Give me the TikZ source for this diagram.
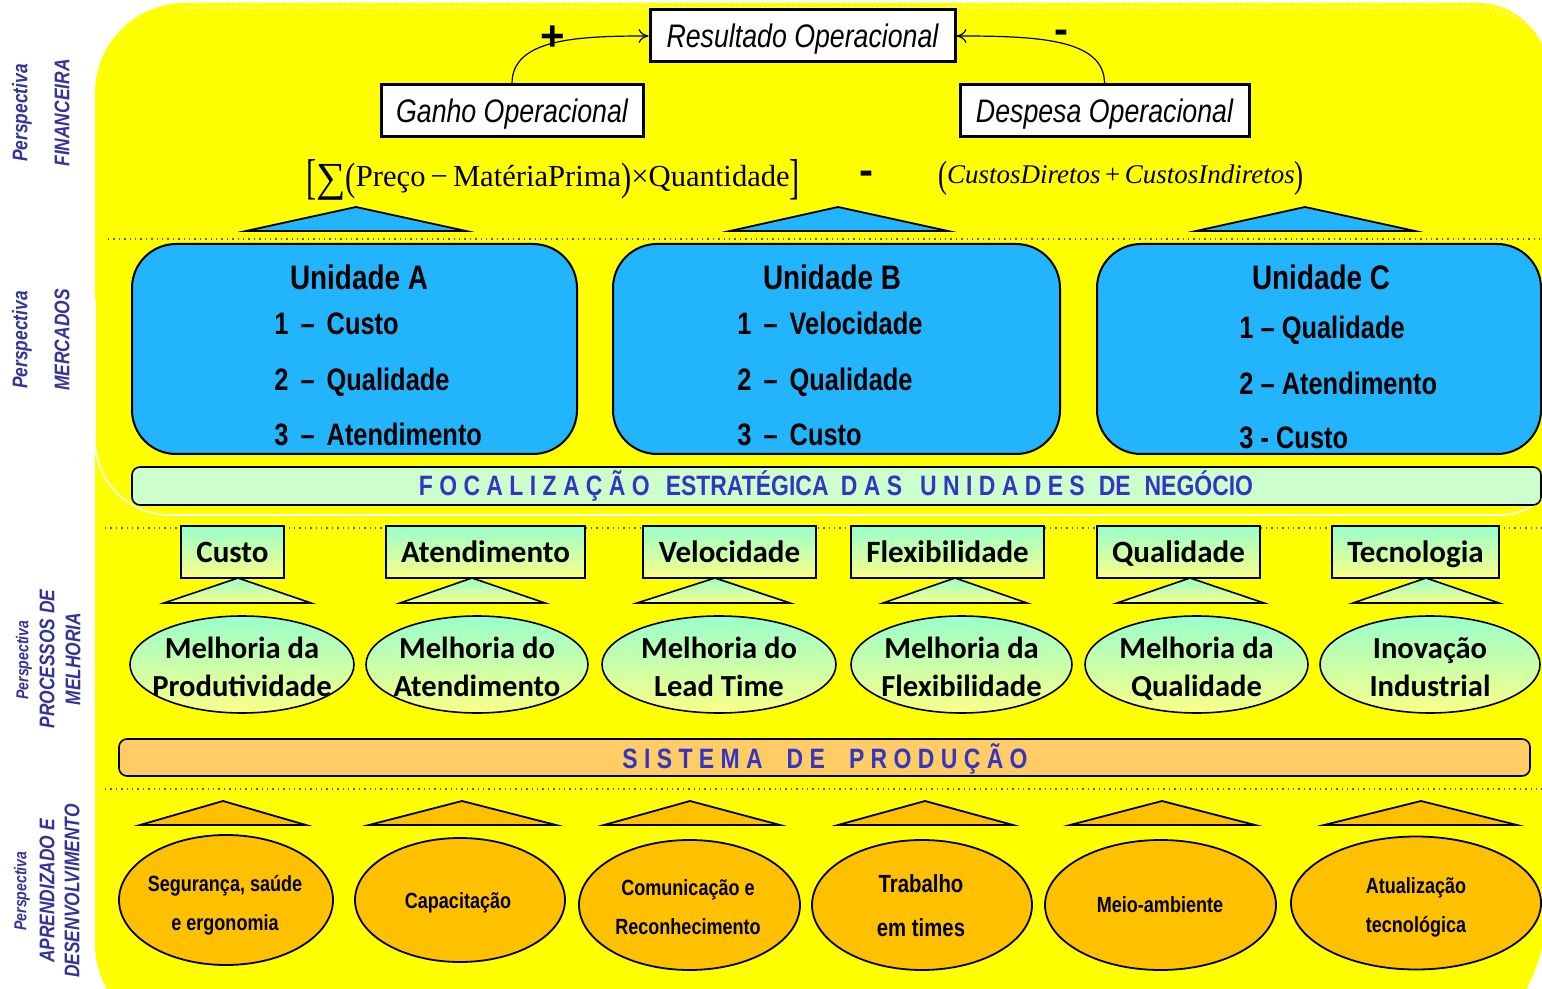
\documentclass[tikz,border=0pt]{standalone}
\usepackage{fontspec}
\usepackage{graphicx}
\setmainfont{Liberation Sans}
\newfontfamily\narrow[FakeStretch=0.82]{Liberation Sans}
\newfontfamily\calib{Carlito}
\newfontfamily\tnr{Liberation Serif}
\usetikzlibrary{shapes.geometric,arrows.meta}
\definecolor{Yel}{HTML}{FFFF00}
\definecolor{UBlue}{HTML}{22B4FC}
\definecolor{LGreen}{HTML}{CCFFCC}
\definecolor{LabBlue}{HTML}{333399}
\definecolor{TxtBlue}{HTML}{3535C4}
\definecolor{Mint}{HTML}{99FFCC}
\definecolor{Lemon}{HTML}{FAFF88}
\definecolor{BarOr}{HTML}{FFCC66}
\definecolor{Amber}{HTML}{FFC000}
\definecolor{DotC}{HTML}{555599}
\tikzset{
  lab/.style={text=LabBlue, font=\narrow\bfseries\itshape\fontsize{10.6}{12}\selectfont, rotate=90, inner sep=0},
  labs/.style={lab, font=\narrow\bfseries\itshape\fontsize{8.6}{10}\selectfont},
  wbox/.style={draw=black, line width=1.5pt, fill=white, inner sep=0, minimum height=26pt, text depth=0pt, font=\narrow\itshape\fontsize{16.3}{18}\selectfont},
  ubox/.style={draw=black, line width=1pt, fill=UBlue, rounded corners=22pt, inner sep=0, minimum height=105pt},
  utitle/.style={anchor=base, inner sep=0, font=\narrow\bfseries\fontsize{17}{20}\selectfont},
  uitem/.style={anchor=base west, inner sep=0, font=\narrow\bfseries\fontsize{15.5}{18}\selectfont},
  bar/.style={draw=black, line width=0.8pt, rounded corners=4pt, inner sep=0},
  bartxt/.style={inner sep=0, text depth=0pt, text=TxtBlue, font=\narrow\bfseries\fontsize{14}{16}\selectfont},
  sbox/.style={draw=black, line width=0.8pt, top color=Mint, bottom color=Lemon, minimum height=26pt, inner sep=0, text depth=0pt, font=\calib\bfseries\fontsize{15.5}{18}\selectfont},
  gell/.style={ellipse, draw=black, line width=0.8pt, top color=Mint, bottom color=Lemon, inner sep=0, minimum height=48.5pt},
  gtxt/.style={align=center, inner sep=0, text depth=0pt, font=\calib\bfseries\fontsize{15.3}{19}\selectfont},
  oell/.style={ellipse, draw=black, line width=0.9pt, fill=Amber, inner sep=0},
  otxt/.style={align=center, inner sep=0, text depth=0pt, font=\narrow\bfseries\fontsize{11}{19.5}\selectfont},
  btri/.style={draw=black, line width=0.9pt, fill=UBlue},
  gtri/.style={draw=black, line width=0.8pt, top color=Mint, bottom color=Lemon},
  otri/.style={draw=black, line width=0.9pt, fill=Amber},
  sep/.style={draw=DotC, line width=0.7pt, dotted},
  sign/.style={inner sep=0, font=\bfseries\fontsize{21}{22}\selectfont},
  conn/.style={draw=black, line width=0.6pt, -{To[length=5pt,width=7pt]}}
}
\begin{document}
\begin{tikzpicture}[x=0.5pt,y=-0.5pt]
\useasboundingbox (0,0) rectangle (1542,989);
% yellow background
\fill[Yel] (95,93) .. controls (95,43.3) and (135.3,3) .. (185,3) -- (1478,3)
  .. controls (1516.6,3) and (1548,34.4) .. (1548,73) -- (1548,900)
  .. controls (1548,950) and (1530,985) .. (1515,1010) -- (185,1034)
  .. controls (135.3,1034) and (95,993.7) .. (95,944) -- cycle;
% white frame of the upper part
\draw[white, line width=0.8pt] (95,300) -- (95,440) .. controls (95,481.4) and (128.6,515) .. (170,515)
  -- (1500,515) .. controls (1520,515) and (1540,505) .. (1548,490);
\draw[white, line width=0.8pt, dotted] (185,8) -- (1478,8) .. controls (1510,8) and (1535,25) .. (1546,45);
% separators
\draw[sep] (108,239) -- (1542,239);
\draw[sep] (105,528) -- (1542,528);
\draw[sep] (105,789) -- (1542,789);
% left labels
\node[lab] (pf1) at (22,113) {Perspectiva};
\node[lab] (pf2) at (62,113) {FINANCEIRA};
\node[lab] (pm1) at (22,340) {Perspectiva};
\node[lab] (pm2) at (62,340) {MERCADOS};
\node[labs] (pp1) at (24,660) {Perspectiva};
\node[lab] (pp2) at (47,659) {PROCESSOS DE};
\node[lab] (pp3) at (73,659) {MELHORIA};
\node[labs] (pa1) at (22,891) {Perspectiva};
\node[lab] (pa2) at (47,891) {APRENDIZADO E};
\node[lab] (pa3) at (72,891) {DESENVOLVIMENTO};
% financial
\node[wbox, minimum width=152.5pt] (res) at (802.5,36) {Resultado Operacional};
\node[wbox, minimum width=131pt] (gan) at (512,111) {Ganho Operacional};
\node[wbox, minimum width=144.5pt] (des) at (1104.5,111) {Despesa Operacional};
\draw[conn] (gan.north) .. controls +(0,-45) and +(-70,0) .. (res.west);
\draw[conn] (des.north) .. controls +(0,-45) and +(80,0) .. (res.east);
\node[sign] (plus) at (553,38) {+};
\node[sign] (minus1) at (1061,37) {-};
\node[inner sep=0] (f1) at (553,180) {\tnr\fontsize{15.3}{18}\selectfont\raisebox{-0.22em}{\scalebox{1}[1.6]{[}}\raisebox{-0.14em}{\scalebox{1.35}{∑}}\raisebox{-0.12em}{\scalebox{1}[1.3]{(}}Preço\,−\,MatériaPrima\raisebox{-0.12em}{\scalebox{1}[1.3]{)}}×Quantidade\raisebox{-0.22em}{\scalebox{1}[1.6]{]}}};
\node[sign] (minus2) at (866,178) {-};
\node[inner sep=0] (f2) at (1121,178) {\tnr\fontsize{13.5}{16}\selectfont\raisebox{-0.15em}{\scalebox{1}[1.4]{(}}\itshape CustosDiretos\,{\upshape +}\,CustosIndiretos\/\raisebox{-0.15em}{\scalebox{1}[1.4]{\upshape )}}};
\draw[btri] (246,231) -- (356,207) -- (466,231) -- cycle;
\draw[btri] (730,231) -- (838,207) -- (948,231) -- cycle;
\draw[btri] (1196,231) -- (1305,207) -- (1415,231) -- cycle;
% units
\node[ubox, minimum width=222.5pt] (ua) at (354.5,349) {};
\node[ubox, minimum width=223.5pt] (ub) at (836.5,349) {};
\node[ubox, minimum width=222pt] (uc) at (1319,349) {};
\node[utitle] (uat) at (359,290) {Unidade A};
\node[uitem] (ua1) at (274,335) {1\hspace{6pt}–\hspace{6pt}Custo};
\node[uitem] (ua2) at (274,391) {2\hspace{6pt}–\hspace{6pt}Qualidade};
\node[uitem] (ua3) at (274,445) {3\hspace{6pt}–\hspace{6pt}Atendimento};
\node[utitle] (ubt) at (832,290) {Unidade B};
\node[uitem] (ub1) at (737,335) {1\hspace{6pt}–\hspace{6pt}Velocidade};
\node[uitem] (ub2) at (737,391) {2\hspace{6pt}–\hspace{6pt}Qualidade};
\node[uitem] (ub3) at (737,445) {3\hspace{6pt}–\hspace{6pt}Custo};
\node[utitle] (uct) at (1321,290) {Unidade C};
\node[uitem] (uc1) at (1239,339) {1 – Qualidade};
\node[uitem] (uc2) at (1239,395) {2 – Atendimento};
\node[uitem] (uc3) at (1239,449) {3 - Custo};
\node[bar, fill=LGreen, minimum width=704.5pt, minimum height=19pt] (foc) at (836.5,486) {};
\node[bartxt] (foct) at (836,483) {F O C A L I Z A Ç Ã O\hspace{8pt}ESTRATÉGICA\hspace{3pt} D A S\hspace{9pt}U N I D A D E S\hspace{7pt}DE\hspace{7pt}NEGÓCIO};
% processes
\node[sbox, minimum width=51.5pt] (s1) at (232.5,552) {Custo};
\node[sbox, minimum width=99.5pt] (s2) at (485.5,552) {Atendimento};
\node[sbox, minimum width=86.5pt] (s3) at (729.5,552) {Velocidade};
\node[sbox, minimum width=96.5pt] (s4) at (947.5,552) {Flexibilidade};
\node[sbox, minimum width=81.5pt] (s5) at (1178.5,552) {Qualidade};
\node[sbox, minimum width=83.5pt] (s6) at (1415.5,552) {Tecnologia};
\draw[gtri] (164,603) -- (238,578) -- (311,603) -- cycle;
\draw[gtri] (400,603) -- (472,578) -- (545,603) -- cycle;
\draw[gtri] (637,603) -- (715,578) -- (790,603) -- cycle;
\draw[gtri] (883,603) -- (955,578) -- (1027,603) -- cycle;
\draw[gtri] (1117,603) -- (1190,578) -- (1264,603) -- cycle;
\draw[gtri] (1353,603) -- (1426,578) -- (1499,603) -- cycle;
\node[gell, minimum width=112pt] (g1) at (242,664.5) {};
\node[gell, minimum width=111pt] (g2) at (477,664.5) {};
\node[gell, minimum width=117pt] (g3) at (719,664.5) {};
\node[gell, minimum width=110.5pt] (g4) at (961.5,664.5) {};
\node[gell, minimum width=111.5pt] (g5) at (1196.5,664.5) {};
\node[gell, minimum width=110pt] (g6) at (1430,664.5) {};
\node[gtxt] (g1t) at (242,667) {Melhoria da\\Produtividade};
\node[gtxt] (g2t) at (477,667) {Melhoria do\\Atendimento};
\node[gtxt] (g3t) at (719,667) {Melhoria do\\Lead Time};
\node[gtxt] (g4t) at (961.5,667) {Melhoria da\\Flexibilidade};
\node[gtxt] (g5t) at (1196.5,667) {Melhoria da\\Qualidade};
\node[gtxt] (g6t) at (1430,667) {Inovação\\Industrial};
\node[bar, fill=BarOr, minimum width=705.5pt, minimum height=18.5pt] (sis) at (824.5,757.5) {};
\node[bartxt] (sist) at (825,756) {S I S T E M A\hspace{12pt}D E\hspace{12pt}P R O D U Ç Ã O};
% learning
\draw[otri] (140,825) -- (223,801) -- (306,825) -- cycle;
\draw[otri] (369,825) -- (462,801) -- (556,825) -- cycle;
\draw[otri] (604,825) -- (690,801) -- (780,825) -- cycle;
\draw[otri] (838,825) -- (925,801) -- (1013,825) -- cycle;
\draw[otri] (1070,825) -- (1162,801) -- (1255,825) -- cycle;
\draw[otri] (1324,825) -- (1421,801) -- (1517,825) -- cycle;
\node[oell, minimum width=107pt, minimum height=65pt] (o1) at (226,900) {};
\node[oell, minimum width=105pt, minimum height=62pt] (o2) at (460,900) {};
\node[oell, minimum width=110.5pt, minimum height=65pt] (o3) at (689.5,905) {};
\node[oell, minimum width=110pt, minimum height=65pt] (o4) at (922,905) {};
\node[oell, minimum width=115.5pt, minimum height=65pt] (o5) at (1160.5,905) {};
\node[oell, minimum width=125pt, minimum height=66.5pt] (o6) at (1416,903) {};
\node[otxt] (o1t) at (225,903) {Segurança, saúde\\e ergonomia};
\node[otxt] (o2t) at (458,901) {Capacitação};
\node[otxt] (o3t) at (688,907) {Comunicação e\\Reconhecimento};
\node[otxt, font=\narrow\bfseries\fontsize{12.4}{22}\selectfont] (o4t) at (921,906) {Trabalho\\em times};
\node[otxt] (o5t) at (1160,905) {Meio-ambiente};
\node[otxt] (o6t) at (1416,905) {Atualização\\tecnológica};
\end{tikzpicture}
\end{document}
